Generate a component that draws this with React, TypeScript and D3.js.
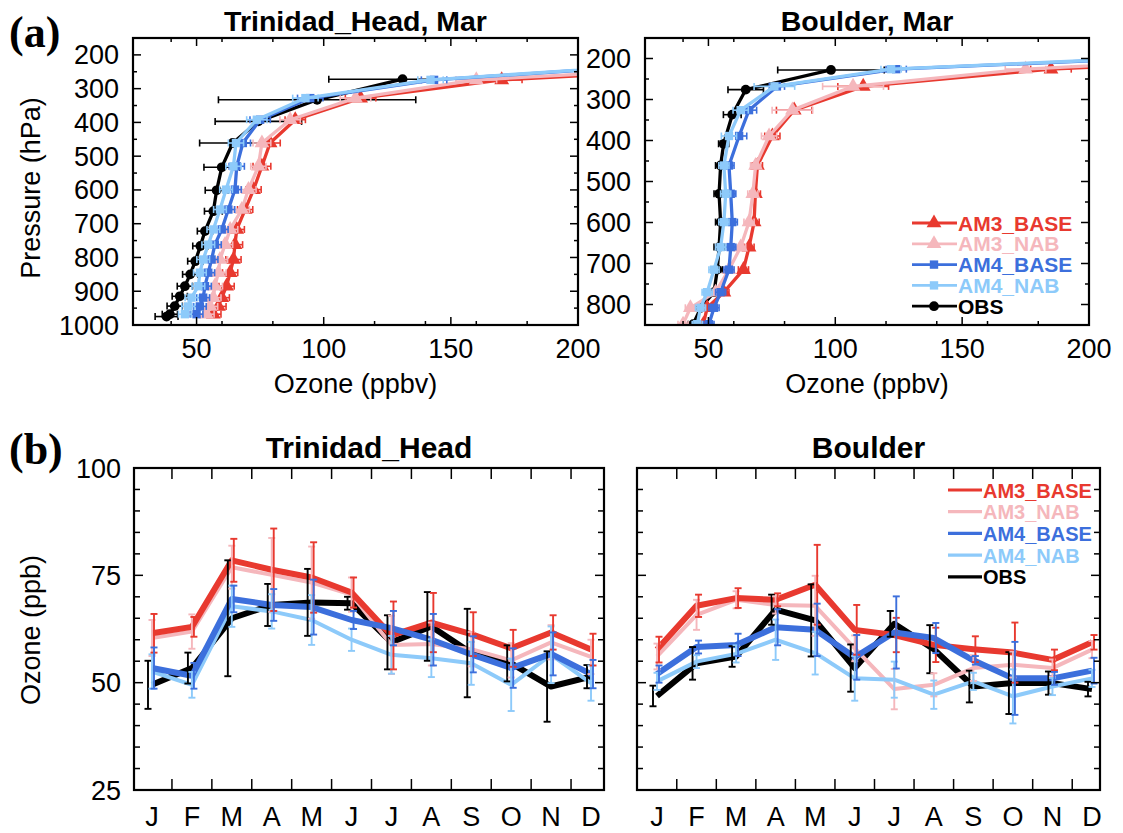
import React from "react";
import * as d3 from "d3";

const SERIES = ["AM3_BASE", "AM3_NAB", "AM4_BASE", "AM4_NAB", "OBS"];
const COLORS = ["#e8392f", "#f5b7bc", "#3c6fdc", "#8dcafa", "#000000"];
const MARKERS = ["triangle", "triangle", "square", "square", "circle"];
const MONTHS = ["J", "F", "M", "A", "M", "J", "J", "A", "S", "O", "N", "D"];
const MONTH_NUM = [1, 2, 3, 4, 5, 6, 7, 8, 9, 10, 11, 12];

// ---- (a) vertical profiles, March ----
const TH_LEV = [225, 274, 328, 392, 461, 530, 599, 658, 717, 762, 806, 845, 885, 919, 945, 968];
const TH_AM3_BASE = [290, 170, 114.5, 88.8, 78.9, 75.7, 72.4, 69.1, 65.8, 65.1, 64.5, 63.2, 61.8, 59.9, 58.6, 56.6];
const TH_AM3_BASE_ERR = [10, 8, 6, 4, 4, 3.5, 3, 3, 3, 3, 3, 3, 3, 3, 3, 3];
const TH_AM3_NAB = [280, 160, 112.5, 86.8, 75.7, 74.3, 70.4, 67.8, 63.2, 61.2, 59.2, 58.6, 57.2, 56.6, 55.3, 53.9];
const TH_AM3_NAB_ERR = [10, 8, 6, 4, 3.5, 3, 3, 3, 3, 3, 3, 3, 3, 3, 3, 3];
const TH_AM4_BASE = [243, 143.4, 94.7, 75, 68.2, 65.8, 65.1, 62.5, 59.9, 57.2, 55.9, 54.6, 53.3, 52.6, 51.3, 50];
const TH_AM4_BASE_ERR = [8, 5, 5, 4, 3, 3, 2.5, 2.5, 2.5, 2.5, 2.5, 2.5, 2.5, 2.5, 2.5, 2.5];
const TH_AM4_NAB = [240, 142, 92.8, 73.7, 65.5, 64.5, 61.6, 59.2, 56.6, 54.6, 52.6, 51.3, 50.7, 48, 46.7, 45.4];
const TH_AM4_NAB_ERR = [8, 5, 5, 4, 3, 3, 2.5, 2.5, 2.5, 2.5, 2.5, 2.5, 2.5, 2.5, 2.5, 2.5];
const TH_OBS_LEV = [272, 333, 397, 461, 533, 601, 663, 722, 766, 811, 850, 885, 915, 944, 968, 975];
const TH_OBS = [131, 97.4, 74.3, 64.2, 59.9, 57.9, 56.6, 53.3, 51.5, 49.5, 47.5, 45.4, 43.4, 41.4, 39.5, 38.2];
const TH_OBS_ERR = [29, 38.8, 17, 13, 7, 4.5, 3.5, 3, 3, 3, 3, 3, 3, 3, 3, 4.5];

const BO_LEV = [190, 226, 268, 326, 389, 461, 530, 599, 660, 715, 770, 808, 848];
const BO_AM3_BASE = [300, 185, 111, 83.8, 75.2, 69.3, 68.5, 68, 66, 63.8, 56.1, 49.5, 48];
const BO_AM3_BASE_ERR = [10, 8, 10, 7, 3, 2, 2, 2, 2, 2, 2, 2, 2];
const BO_AM3_NAB = [290, 175, 107, 83.1, 73.9, 68.6, 67.5, 66, 62.7, 58.1, 52.8, 42.9, 40];
const BO_AM3_NAB_ERR = [10, 8, 12, 8, 3, 2, 2, 2, 2, 2, 2, 2, 2];
const BO_AM4_BASE = [260, 124, 77, 66, 62.1, 58.1, 58.8, 59.4, 58.8, 58.1, 54.8, 52.2, 50.2];
const BO_AM4_BASE_ERR = [8, 4, 3, 3, 3, 2, 2, 2, 2, 2, 2, 2, 2];
const BO_AM4_NAB = [255, 122, 76, 62.7, 58.1, 56.1, 56.8, 56.1, 54.8, 52.2, 49.5, 46.9, 45.6];
const BO_AM4_NAB_ERR = [8, 4, 8, 3, 3, 2, 2, 2, 2, 2, 2, 2, 2];
const BO_OBS_LEV = [228, 276, 337, 408, 461, 530, 599, 660, 715, 770, 808, 848];
const BO_OBS = [98.3, 64.7, 59.4, 56, 54.8, 54.2, 54.8, 54.2, 53.5, 52.2, 47, 44];
const BO_OBS_ERR = [21, 7, 3.5, 2, 2, 2, 2, 2, 2, 2, 2, 2];

// ---- (b) seasonal cycles ----
const THM_AM3_BASE = [61.5, 63, 78.5, 76.3, 74.5, 71, 61, 64, 61.3, 58, 61.7, 57.7];
const THM_AM3_BASE_ERR = [4.5, 2.3, 5, 9.6, 8.2, 3.5, 7.9, 6.9, 5.1, 4.3, 4, 3.7];
const THM_AM3_NAB = [60.4, 61.9, 76.9, 75.1, 73.3, 70.5, 58.8, 59, 57.8, 55.2, 59.4, 56];
const THM_AM3_NAB_ERR = [4.2, 4, 5, 8.6, 8.4, 4, 6.8, 5, 4, 4, 4, 4];
const THM_AM4_BASE = [53.4, 51.6, 69.5, 68.1, 67.6, 64.6, 62.7, 60, 56.6, 53.4, 56.7, 52];
const THM_AM4_BASE_ERR = [4.8, 3, 3.1, 3.7, 6.4, 2.1, 4, 6, 4.2, 4.6, 5, 3.3];
const THM_AM4_NAB = [52.6, 49.5, 67.8, 66.6, 64.6, 60, 56.5, 55.7, 54.5, 49.5, 56.5, 49.9];
const THM_AM4_NAB_ERR = [4, 3, 4.8, 4, 5.8, 2.6, 4.4, 4.4, 5, 6.1, 6.6, 4.1];
const THM_OBS = [49.5, 53.4, 65, 68.1, 68.7, 68.5, 59.4, 63.1, 56.9, 54.5, 49.1, 51.4];
const THM_OBS_ERR = [5.6, 3.6, 13.5, 4.9, 7.8, 1.5, 6.3, 8, 10.3, 4.2, 8.2, 2.7];

const BOM_AM3_BASE = [57.7, 67.9, 69.7, 69.3, 72.8, 62.3, 61.1, 58.8, 57.8, 57, 55.3, 59.4];
const BOM_AM3_BASE_ERR = [3, 2.6, 2.3, 1.5, 9.3, 5.8, 4, 4, 3, 7, 2.4, 1.7];
const BOM_AM3_NAB = [56.1, 65.8, 69.3, 68.1, 67.9, 58, 48.5, 49.5, 53.4, 54.2, 53.4, 57.7];
const BOM_AM3_NAB_ERR = [3, 3.5, 2, 2, 7, 3, 4.7, 2.7, 3, 3, 2, 2];
const BOM_AM4_BASE = [52, 58.3, 58.8, 62.9, 62.3, 55.9, 61.7, 60.4, 55.2, 51, 51, 52.8];
const BOM_AM4_BASE_ERR = [2, 1.5, 2.6, 4.2, 6.1, 5.2, 8.4, 3.5, 1, 8.5, 1.5, 3];
const BOM_AM4_NAB = [50.3, 54.9, 56.7, 60, 56.9, 51, 50.7, 47.2, 50.3, 46.8, 49.1, 51];
const BOM_AM4_NAB_ERR = [2, 1.5, 2, 4.7, 5, 5.2, 4.2, 3.3, 2, 6.3, 2, 2];
const BOM_OBS = [46.9, 54.5, 56.1, 67, 64.5, 53.4, 63.7, 57.8, 49.1, 49.9, 49.9, 48.5];
const BOM_OBS_ERR = [2.4, 3.8, 2.4, 3.5, 8.4, 5.5, 3, 5.6, 3.7, 7.2, 2.7, 1.7];

const PRESSURE_TICKS_TH = [200, 300, 400, 500, 600, 700, 800, 900, 1000];
const PRESSURE_TICKS_BO = [200, 300, 400, 500, 600, 700, 800];
const OZONE_TICKS = [50, 100, 150, 200];
const OZONE_MINOR = [40, 60, 80, 120, 140, 160, 180];
const PPB_TICKS = [25, 50, 75, 100];

const FONT = "'Liberation Sans', Arial, Helvetica, sans-serif";

type Prof = { lev: number[]; val: number[]; err: number[] };

function Marker({ kind, x, y, color }: { kind: string; x: number; y: number; color: string }) {
  const sym = kind === "triangle" ? d3.symbolTriangle : kind === "square" ? d3.symbolSquare : d3.symbolCircle;
  const size = kind === "triangle" ? 95 : kind === "square" ? 70 : 75;
  const p = d3.symbol().type(sym).size(size)() as string;
  return <path d={p} transform={`translate(${x},${y})`} fill={color} />;
}

function ProfilePanel(props: {
  id: string; x0: number; x1: number; y0: number; y1: number; pMax: number;
  pTicks: number[]; title: string; profs: Prof[]; legend: boolean;
}) {
  const { id, x0, x1, y0, y1, pMax, pTicks, title, profs, legend } = props;
  const x = d3.scaleLinear().domain([25, 200]).range([x0, x1]);
  const y = d3.scaleLinear().domain([150, pMax]).range([y0, y1]);
  const minorP = d3.range(250, pMax, 100);
  const order = [4, 0, 1, 2, 3];
  return (
    <g>
      <defs>
        <clipPath id={id}>
          <rect x={x0} y={y0} width={x1 - x0} height={y1 - y0} />
        </clipPath>
      </defs>
      <g clipPath={`url(#${id})`}>
        {order.map((si) => {
          const pr = profs[si];
          const pts = pr.lev.map((p, i) => [pr.val[i], p] as [number, number]);
          const line = d3.line<[number, number]>().x((d) => x(d[0])).y((d) => y(d[1]));
          return (
            <g key={si}>
              <path d={line(pts) as string} fill="none" stroke={COLORS[si]} strokeWidth={3.3} strokeLinejoin="round" />
              {pts.map((d, i) => {
                const yy = y(d[1]);
                const xl = x(d[0] - pr.err[i]);
                const xr = x(d[0] + pr.err[i]);
                return (
                  <g key={i} stroke={COLORS[si]} strokeWidth={1.6}>
                    <line x1={xl} x2={xr} y1={yy} y2={yy} />
                    <line x1={xl} x2={xl} y1={yy - 3.5} y2={yy + 3.5} />
                    <line x1={xr} x2={xr} y1={yy - 3.5} y2={yy + 3.5} />
                  </g>
                );
              })}
              {pts.map((d, i) => (
                <Marker key={"m" + i} kind={MARKERS[si]} x={x(d[0])} y={y(d[1])} color={COLORS[si]} />
              ))}
            </g>
          );
        })}
      </g>
      <rect x={x0} y={y0} width={x1 - x0} height={y1 - y0} fill="none" stroke="#000" strokeWidth={2.2} />
      {OZONE_TICKS.map((t) => (
        <g key={"xt" + t} stroke="#000" strokeWidth={1.5}>
          <line x1={x(t)} x2={x(t)} y1={y1} y2={y1 - 8} />
          <line x1={x(t)} x2={x(t)} y1={y0} y2={y0 + 8} />
        </g>
      ))}
      {OZONE_MINOR.map((t) => (
        <g key={"xm" + t} stroke="#000" strokeWidth={1.5}>
          <line x1={x(t)} x2={x(t)} y1={y1} y2={y1 - 4} />
          <line x1={x(t)} x2={x(t)} y1={y0} y2={y0 + 4} />
        </g>
      ))}
      {OZONE_TICKS.map((t) => (
        <text key={"xl" + t} x={x(t)} y={y1 + 33} textAnchor="middle" fontSize={27} fontFamily={FONT}>{t}</text>
      ))}
      {pTicks.map((t) => (
        <g key={"yt" + t} stroke="#000" strokeWidth={1.5}>
          <line x1={x0} x2={x0 + 8} y1={y(t)} y2={y(t)} />
          <line x1={x1} x2={x1 - 8} y1={y(t)} y2={y(t)} />
        </g>
      ))}
      {minorP.map((t) => (
        <g key={"ym" + t} stroke="#000" strokeWidth={1.5}>
          <line x1={x0} x2={x0 + 4} y1={y(t)} y2={y(t)} />
          <line x1={x1} x2={x1 - 4} y1={y(t)} y2={y(t)} />
        </g>
      ))}
      {pTicks.map((t) => (
        <text key={"yl" + t} x={x0 - 14} y={y(t) + 9.5} textAnchor="end" fontSize={27} fontFamily={FONT}>{t}</text>
      ))}
      <text x={(x0 + x1) / 2} y={y1 + 68} textAnchor="middle" fontSize={27} fontFamily={FONT}>Ozone (ppbv)</text>
      <text x={(x0 + x1) / 2} y={y0 - 7} textAnchor="middle" fontSize={28.5} fontWeight="bold" fontFamily={FONT}>{title}</text>
      {legend && SERIES.map((s, i) => {
        const ly = y0 + 185 + i * 20.8;
        return (
          <g key={s}>
            <line x1={x1 - 177} x2={x1 - 132} y1={ly} y2={ly} stroke={COLORS[i]} strokeWidth={2.8} />
            <Marker kind={MARKERS[i]} x={x1 - 155} y={ly} color={COLORS[i]} />
            <text x={x1 - 131} y={ly + 7.5} fontSize={21} fontWeight="bold" fill={COLORS[i]} fontFamily={FONT}>{s}</text>
          </g>
        );
      })}
    </g>
  );
}

type Cyc = { val: number[]; err: number[] };

function CyclePanel(props: {
  x0: number; x1: number; y0: number; y1: number; m1: number; m12: number;
  title: string; cycs: Cyc[]; legend: boolean; yLabels: boolean;
}) {
  const { x0, x1, y0, y1, m1, m12, title, cycs, legend, yLabels } = props;
  const x = d3.scaleLinear().domain([1, 12]).range([m1, m12]);
  const y = d3.scaleLinear().domain([25, 100]).range([y1, y0]);
  const widths = [6, 4, 6, 4, 6];
  const order = [4, 1, 3, 0, 2];
  const minorY = d3.range(30, 100, 5).filter((v) => v % 25 !== 0);
  const halfMonths = d3.range(1.5, 12, 1);
  const offs = [2, 0, 2, 0, -4];
  return (
    <g>
      {order.map((si) => {
        const c = cycs[si];
        const line = d3.line<number>().x((_, i) => x(MONTH_NUM[i])).y((d) => y(d));
        return (
          <path key={si} d={line(c.val) as string} fill="none" stroke={COLORS[si]} strokeWidth={widths[si]} strokeLinejoin="round" />
        );
      })}
      {order.map((si) => {
        const c = cycs[si];
        return (
          <g key={"e" + si} stroke={COLORS[si]} strokeWidth={1.9}>
            {c.val.map((v, i) => {
              const xx = x(MONTH_NUM[i]) + offs[si];
              const yt = y(v + c.err[i]);
              const yb = y(v - c.err[i]);
              return (
                <g key={i}>
                  <line x1={xx} x2={xx} y1={yt} y2={yb} />
                  <line x1={xx - 3.5} x2={xx + 3.5} y1={yt} y2={yt} />
                  <line x1={xx - 3.5} x2={xx + 3.5} y1={yb} y2={yb} />
                </g>
              );
            })}
          </g>
        );
      })}
      <rect x={x0} y={y0} width={x1 - x0} height={y1 - y0} fill="none" stroke="#000" strokeWidth={2.2} />
      {halfMonths.map((m) => (
        <g key={"mt" + m} stroke="#000" strokeWidth={1.5}>
          <line x1={x(m)} x2={x(m)} y1={y1} y2={y1 - 11} />
          <line x1={x(m)} x2={x(m)} y1={y0} y2={y0 + 11} />
        </g>
      ))}
      {MONTHS.map((mm, i) => (
        <text key={"ml" + i} x={x(MONTH_NUM[i])} y={y1 + 36} textAnchor="middle" fontSize={27} fontFamily={FONT}>{mm}</text>
      ))}
      {PPB_TICKS.map((t) => (
        <g key={"yt" + t} stroke="#000" strokeWidth={1.5}>
          <line x1={x0} x2={x0 + 9} y1={y(t)} y2={y(t)} />
          <line x1={x1} x2={x1 - 9} y1={y(t)} y2={y(t)} />
        </g>
      ))}
      {minorY.map((t) => (
        <g key={"ym" + t} stroke="#000" strokeWidth={1.5}>
          <line x1={x0} x2={x0 + 6} y1={y(t)} y2={y(t)} />
          <line x1={x1} x2={x1 - 6} y1={y(t)} y2={y(t)} />
        </g>
      ))}
      {yLabels && PPB_TICKS.map((t) => (
        <text key={"yl" + t} x={x0 - 13} y={y(t) + 9.5} textAnchor="end" fontSize={27} fontFamily={FONT}>{t}</text>
      ))}
      <text x={(x0 + x1) / 2} y={y0 - 10} textAnchor="middle" fontSize={30} fontWeight="bold" fontFamily={FONT}>{title}</text>
      {legend && SERIES.map((s, i) => {
        const ly = y0 + 22 + i * 21.7;
        return (
          <g key={s}>
            <line x1={x1 - 152} x2={x1 - 118} y1={ly} y2={ly} stroke={COLORS[i]} strokeWidth={3.2} />
            <text x={x1 - 117} y={ly + 7.5} fontSize={20} fontWeight="bold" fill={COLORS[i]} fontFamily={FONT}>{s}</text>
          </g>
        );
      })}
    </g>
  );
}

export default function App() {
  const thProfs: Prof[] = [
    { lev: TH_LEV, val: TH_AM3_BASE, err: TH_AM3_BASE_ERR },
    { lev: TH_LEV, val: TH_AM3_NAB, err: TH_AM3_NAB_ERR },
    { lev: TH_LEV, val: TH_AM4_BASE, err: TH_AM4_BASE_ERR },
    { lev: TH_LEV, val: TH_AM4_NAB, err: TH_AM4_NAB_ERR },
    { lev: TH_OBS_LEV, val: TH_OBS, err: TH_OBS_ERR },
  ];
  const boProfs: Prof[] = [
    { lev: BO_LEV, val: BO_AM3_BASE, err: BO_AM3_BASE_ERR },
    { lev: BO_LEV, val: BO_AM3_NAB, err: BO_AM3_NAB_ERR },
    { lev: BO_LEV, val: BO_AM4_BASE, err: BO_AM4_BASE_ERR },
    { lev: BO_LEV, val: BO_AM4_NAB, err: BO_AM4_NAB_ERR },
    { lev: BO_OBS_LEV, val: BO_OBS, err: BO_OBS_ERR },
  ];
  const thCyc: Cyc[] = [
    { val: THM_AM3_BASE, err: THM_AM3_BASE_ERR },
    { val: THM_AM3_NAB, err: THM_AM3_NAB_ERR },
    { val: THM_AM4_BASE, err: THM_AM4_BASE_ERR },
    { val: THM_AM4_NAB, err: THM_AM4_NAB_ERR },
    { val: THM_OBS, err: THM_OBS_ERR },
  ];
  const boCyc: Cyc[] = [
    { val: BOM_AM3_BASE, err: BOM_AM3_BASE_ERR },
    { val: BOM_AM3_NAB, err: BOM_AM3_NAB_ERR },
    { val: BOM_AM4_BASE, err: BOM_AM4_BASE_ERR },
    { val: BOM_AM4_NAB, err: BOM_AM4_NAB_ERR },
    { val: BOM_OBS, err: BOM_OBS_ERR },
  ];
  return (
    <svg width={1123} height={833} style={{ position: "absolute", left: 0, top: 0, background: "#fff" }}>
      <rect x={0} y={0} width={1123} height={833} fill="#fff" />
      <text x={9} y={47} fontSize={44} fontWeight="bold" fontFamily="'Liberation Serif', 'Times New Roman', serif">(a)</text>
      <text x={9} y={464} fontSize={44} fontWeight="bold" fontFamily="'Liberation Serif', 'Times New Roman', serif">(b)</text>
      <text transform="translate(40,188) rotate(-90)" textAnchor="middle" fontSize={27} fontFamily={FONT}>Pressure (hPa)</text>
      <text transform="translate(40,630) rotate(-90)" textAnchor="middle" fontSize={27} fontFamily={FONT}>Ozone (ppb)</text>
      <ProfilePanel id="clipTH" x0={133} x1={578} y0={38} y1={325} pMax={1000} pTicks={PRESSURE_TICKS_TH}
        title="Trinidad_Head, Mar" profs={thProfs} legend={false} />
      <ProfilePanel id="clipBO" x0={645} x1={1089} y0={38} y1={325} pMax={850} pTicks={PRESSURE_TICKS_BO}
        title="Boulder, Mar" profs={boProfs} legend={true} />
      <CyclePanel x0={134} x1={604} y0={468} y1={790} m1={152} m12={591} title="Trinidad_Head" cycs={thCyc} legend={false} yLabels={true} />
      <CyclePanel x0={637} x1={1100} y0={468} y1={790} m1={657} m12={1092} title="Boulder" cycs={boCyc} legend={true} yLabels={false} />
    </svg>
  );
}
